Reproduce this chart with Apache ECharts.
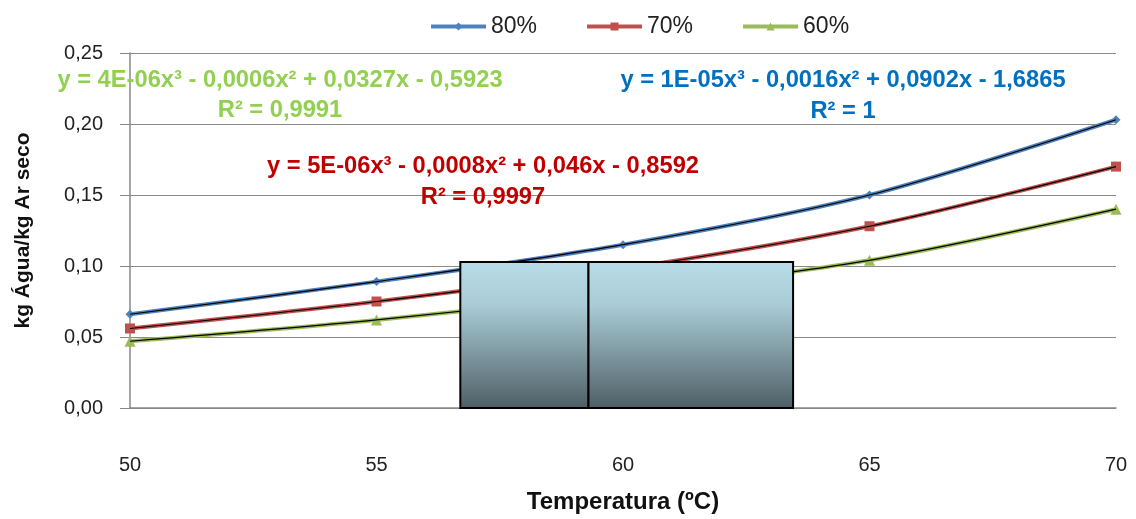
<!DOCTYPE html>
<html>
<head>
<meta charset="utf-8">
<script src="https://cdn.jsdelivr.net/npm/echarts@6/dist/echarts.min.js"></script>
<style>html,body{margin:0;padding:0;background:#fff}#c{width:1136px;height:519px}</style>
</head>
<body>
<div id="c"></div>
<script>
var temps = [50, 55, 60, 65, 70];
var s80 = [0.066, 0.089, 0.115, 0.150, 0.203];
var s70 = [0.056, 0.075, 0.098, 0.128, 0.170];
var s60 = [0.047, 0.062, 0.081, 0.104, 0.140];
var seriesNames = ['80%', '70%', '60%'];
var yTicks = [0, 0.05, 0.10, 0.15, 0.20, 0.25];
var eq80 = ['y = 1E-05x³ - 0,0016x² + 0,0902x - 1,6865', 'R² = 1'];
var eq70 = ['y = 5E-06x³ - 0,0008x² + 0,046x - 0,8592', 'R² = 0,9997'];
var eq60 = ['y = 4E-06x³ - 0,0006x² + 0,0327x - 0,5923', 'R² = 0,9991'];
// overlay box (x range in °C, y top in kg/kg)
var boxLeft = [56.7, 59.3];
var boxRight = [59.3, 63.45];
var boxTop = 0.1028;

function pts(arr){ return temps.map(function(t,i){ return [t, arr[i]]; }); }
var FONT = '"Liberation Sans", Arial, sans-serif';
var colors = ['#4F81BD', '#C0504D', '#9BBB59'];
var symbols = ['diamond', 'rect', 'triangle'];
var sizes = [9, 10, 11];
var data = [s80, s70, s60];

var series = [];
data.forEach(function(d, i){
  series.push({
    name: seriesNames[i], type: 'line', data: pts(d), smooth: 0.3,
    symbol: symbols[i], symbolSize: sizes[i],
    lineStyle: {color: colors[i], width: 4},
    itemStyle: {color: colors[i]}, z: 2
  });
});
data.forEach(function(d, i){
  series.push({
    name: 'trend' + i, type: 'line', data: pts(d), smooth: 0.3,
    symbol: 'none', lineStyle: {color: '#000', width: 1.2}, z: 3, silent: true
  });
});
var grad = new echarts.graphic.LinearGradient(0, 0, 0, 1, [
  {offset: 0, color: '#b8dde8'}, {offset: 0.3, color: '#a9cbd5'},
  {offset: 1, color: '#4d5e65'}
]);
series.push({
  name: 'box', type: 'line', data: [], z: 10, silent: true,
  markArea: {
    silent: true, z: 20,
    itemStyle: {color: grad, borderColor: '#000', borderWidth: 2, opacity: 1},
    data: [
      [{coord: [boxLeft[0], boxTop]}, {coord: [boxLeft[1], 0]}],
      [{coord: [boxRight[0], boxTop]}, {coord: [boxRight[1], 0]}]
    ]
  }
});

var eqStyle = function(col){ return {fill: col, font: 'bold 23.7px ' + FONT, textAlign: 'center', textVerticalAlign: 'middle'}; };
var option = {
  animation: false,
  backgroundColor: '#fff',
  grid: {left: 130, right: 20, top: 53, bottom: 108},
  legend: {
    data: seriesNames, top: 10, left: 424, itemWidth: 55, itemHeight: 10, itemGap: 48,
    lineStyle: {width: 4},
    textStyle: {fontFamily: FONT, fontSize: 23, color: '#222'}
  },
  xAxis: {
    type: 'value', min: 50, max: 70, interval: 5,
    name: 'Temperatura (ºC)', nameLocation: 'middle', nameGap: 82,
    nameTextStyle: {fontFamily: FONT, fontSize: 24, fontWeight: 'bold', color: '#111'},
    axisLine: {lineStyle: {color: '#888', width: 1.5}},
    axisTick: {show: false},
    splitLine: {show: false},
    axisLabel: {margin: 47, fontFamily: FONT, fontSize: 20, color: '#222'}
  },
  yAxis: {
    type: 'value', min: 0, max: 0.25, interval: 0.05,
    name: 'kg Água/kg Ar seco', nameLocation: 'middle', nameGap: 96,
    nameTextStyle: {fontFamily: FONT, fontSize: 21, fontWeight: 'bold', color: '#111'},
    axisLine: {show: true, lineStyle: {color: '#888', width: 1.5}},
    axisTick: {show: true, length: 10, lineStyle: {color: '#888'}},
    splitLine: {lineStyle: {color: '#8a8a8a', width: 1.2}},
    axisLabel: {margin: 27, fontFamily: FONT, fontSize: 20, color: '#222',
      formatter: function(v){ return v.toFixed(2).replace('.', ','); }}
  },
  graphic: [
    {type: 'text', x: 280, y: 80, style: Object.assign({text: eq60[0]}, eqStyle('#92D050')), z: 20},
    {type: 'text', x: 280, y: 110, style: Object.assign({text: eq60[1]}, eqStyle('#92D050')), z: 20},
    {type: 'text', x: 843, y: 80, style: Object.assign({text: eq80[0]}, eqStyle('#0070C0')), z: 20},
    {type: 'text', x: 843, y: 111, style: Object.assign({text: eq80[1]}, eqStyle('#0070C0')), z: 20},
    {type: 'text', x: 483, y: 166, style: Object.assign({text: eq70[0]}, eqStyle('#C00000')), z: 20},
    {type: 'text', x: 483, y: 197, style: Object.assign({text: eq70[1]}, eqStyle('#C00000')), z: 20}
  ],
  series: series
};
var chart = echarts.init(document.getElementById('c'), null, {renderer: 'canvas'});
chart.setOption(option);
</script>
</body>
</html>
